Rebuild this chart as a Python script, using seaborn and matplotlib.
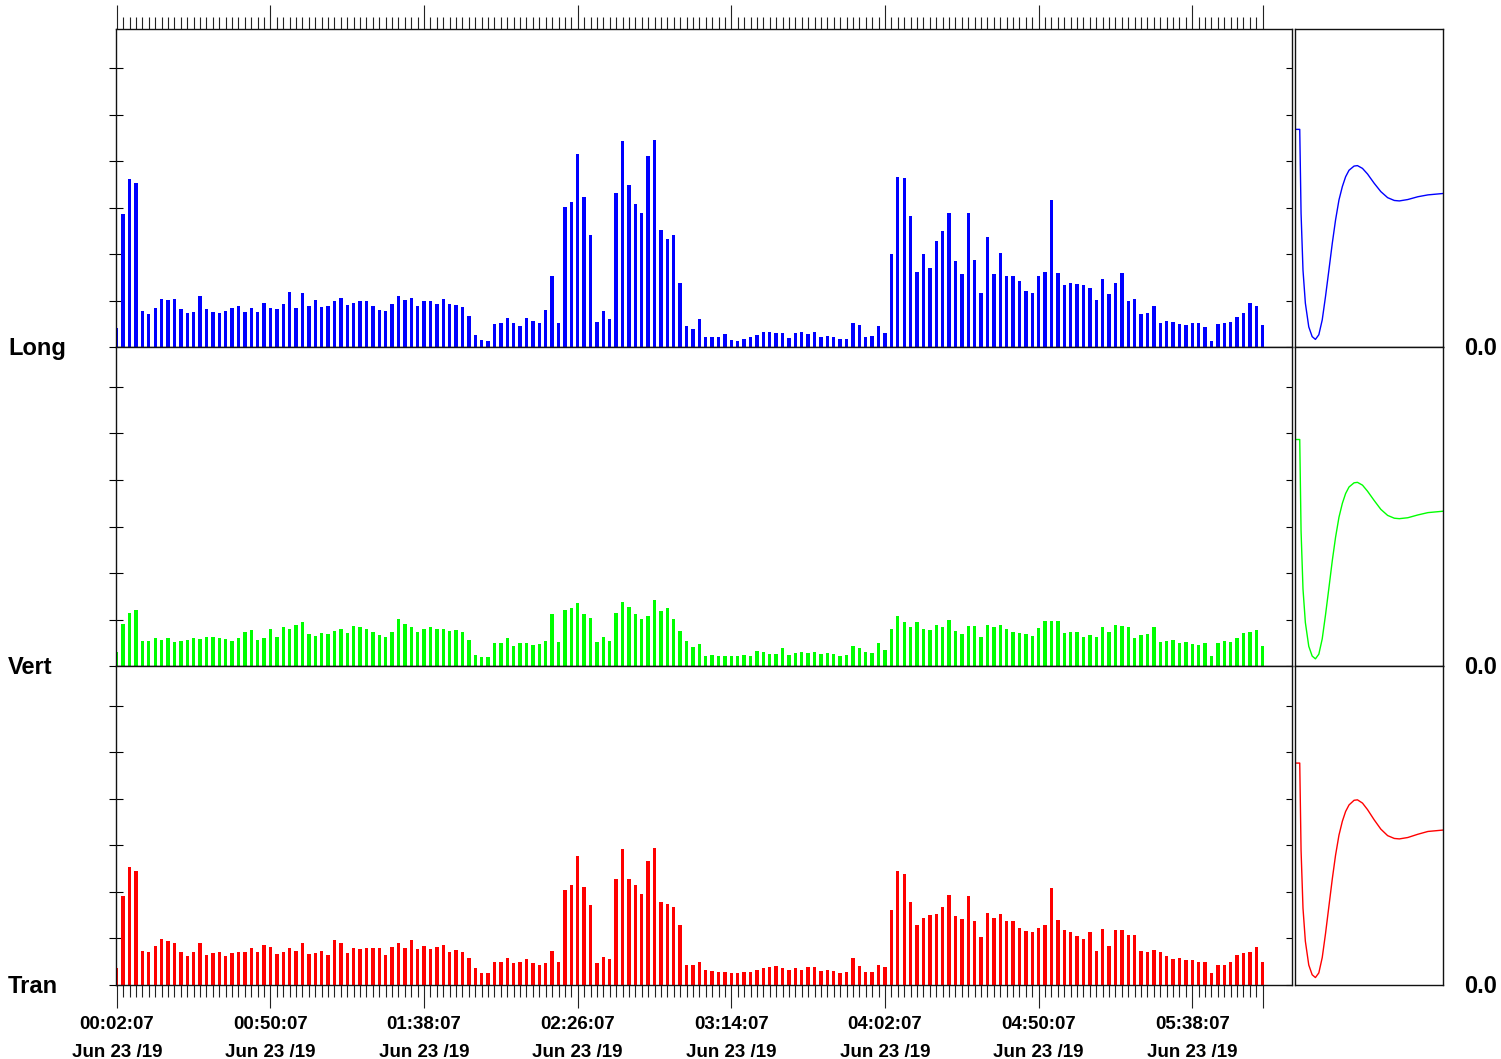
import numpy as np
import pandas as pd
import matplotlib.pyplot as plt
import seaborn as sns

sns.set_style("white")
plt.rcParams['font.family'] = ['Liberation Sans', 'DejaVu Sans']
plt.rcParams['axes.linewidth'] = 1.0
plt.rcParams['text.color'] = 'black'
plt.rcParams['xtick.color'] = 'black'
plt.rcParams['ytick.color'] = 'black'

# ---- data ----
times = pd.date_range("2019-06-23 00:02:07", periods=180, freq="2min")

long_vals = [
    0.41, 2.87, 3.63, 3.53, 0.78, 0.71, 0.85, 1.05, 1.02, 1.05,
    0.82, 0.74, 0.75, 1.10, 0.82, 0.75, 0.74, 0.78, 0.85, 0.89,
    0.77, 0.85, 0.77, 0.95, 0.85, 0.82, 0.93, 1.18, 0.85, 1.16,
    0.88, 1.02, 0.87, 0.89, 0.99, 1.06, 0.91, 0.95, 1.00, 0.99,
    0.89, 0.80, 0.78, 0.93, 1.10, 1.02, 1.06, 0.88, 1.00, 0.99,
    0.94, 1.05, 0.93, 0.91, 0.87, 0.67, 0.27, 0.16, 0.14, 0.50,
    0.52, 0.64, 0.52, 0.45, 0.62, 0.57, 0.52, 0.80, 1.53, 0.52,
    3.01, 3.12, 4.15, 3.24, 2.41, 0.54, 0.78, 0.61, 3.32, 4.45,
    3.49, 3.08, 2.90, 4.11, 4.47, 2.52, 2.33, 2.42, 1.38, 0.45,
    0.39, 0.61, 0.22, 0.22, 0.22, 0.29, 0.16, 0.14, 0.18, 0.22,
    0.27, 0.34, 0.34, 0.31, 0.30, 0.20, 0.31, 0.34, 0.29, 0.34,
    0.23, 0.24, 0.23, 0.17, 0.18, 0.52, 0.47, 0.23, 0.24, 0.45,
    0.31, 2.00, 3.66, 3.64, 2.82, 1.62, 2.00, 1.71, 2.29, 2.50,
    2.90, 1.85, 1.58, 2.90, 1.87, 1.17, 2.37, 1.58, 2.04, 1.53,
    1.54, 1.43, 1.21, 1.17, 1.53, 1.62, 3.17, 1.60, 1.35, 1.38,
    1.36, 1.35, 1.28, 1.02, 1.47, 1.15, 1.38, 1.60, 1.00, 1.04,
    0.71, 0.74, 0.88, 0.52, 0.57, 0.54, 0.50, 0.47, 0.52, 0.52,
    0.44, 0.14, 0.50, 0.52, 0.54, 0.65, 0.74, 0.95, 0.89, 0.48,
]

vert_vals = [
    0.31, 0.91, 1.14, 1.20, 0.54, 0.54, 0.60, 0.56, 0.60, 0.52,
    0.54, 0.57, 0.60, 0.59, 0.62, 0.62, 0.61, 0.58, 0.54, 0.61,
    0.74, 0.77, 0.57, 0.61, 0.80, 0.63, 0.84, 0.80, 0.89, 0.96,
    0.70, 0.65, 0.72, 0.70, 0.76, 0.80, 0.72, 0.87, 0.85, 0.80,
    0.74, 0.67, 0.63, 0.73, 1.01, 0.91, 0.85, 0.73, 0.80, 0.84,
    0.80, 0.80, 0.76, 0.78, 0.73, 0.56, 0.24, 0.20, 0.20, 0.49,
    0.50, 0.60, 0.44, 0.50, 0.50, 0.46, 0.48, 0.55, 1.13, 0.52,
    1.21, 1.25, 1.36, 1.13, 1.04, 0.52, 0.63, 0.54, 1.15, 1.38,
    1.28, 1.13, 1.02, 1.09, 1.42, 1.19, 1.26, 1.02, 0.76, 0.54,
    0.42, 0.48, 0.22, 0.24, 0.22, 0.22, 0.22, 0.22, 0.24, 0.22,
    0.33, 0.31, 0.27, 0.27, 0.39, 0.24, 0.29, 0.31, 0.29, 0.31,
    0.27, 0.29, 0.27, 0.22, 0.25, 0.44, 0.39, 0.31, 0.29, 0.50,
    0.35, 0.80, 1.09, 0.95, 0.85, 0.95, 0.80, 0.78, 0.89, 0.85,
    1.00, 0.76, 0.70, 0.87, 0.87, 0.63, 0.89, 0.85, 0.89, 0.80,
    0.74, 0.72, 0.70, 0.65, 0.82, 0.97, 0.97, 0.97, 0.72, 0.74,
    0.74, 0.63, 0.67, 0.63, 0.85, 0.74, 0.89, 0.87, 0.84, 0.61,
    0.67, 0.70, 0.85, 0.52, 0.54, 0.57, 0.49, 0.52, 0.48, 0.46,
    0.49, 0.22, 0.50, 0.54, 0.52, 0.61, 0.72, 0.74, 0.78, 0.43,
]

tran_vals = [
    0.37, 1.92, 2.53, 2.44, 0.74, 0.72, 0.83, 0.99, 0.94, 0.91,
    0.70, 0.62, 0.70, 0.91, 0.64, 0.68, 0.72, 0.62, 0.68, 0.72,
    0.72, 0.79, 0.72, 0.85, 0.81, 0.66, 0.72, 0.80, 0.74, 0.90,
    0.67, 0.68, 0.74, 0.64, 0.96, 0.91, 0.68, 0.80, 0.77, 0.79,
    0.79, 0.79, 0.64, 0.82, 0.91, 0.80, 0.96, 0.77, 0.83, 0.77,
    0.81, 0.85, 0.72, 0.75, 0.72, 0.59, 0.37, 0.25, 0.26, 0.49,
    0.49, 0.58, 0.47, 0.50, 0.55, 0.47, 0.44, 0.47, 0.74, 0.49,
    2.04, 2.15, 2.77, 2.11, 1.73, 0.47, 0.61, 0.55, 2.28, 2.92,
    2.28, 2.14, 1.95, 2.67, 2.94, 1.78, 1.74, 1.67, 1.28, 0.42,
    0.42, 0.49, 0.32, 0.31, 0.27, 0.29, 0.25, 0.25, 0.27, 0.27,
    0.32, 0.36, 0.39, 0.40, 0.37, 0.32, 0.36, 0.32, 0.39, 0.39,
    0.30, 0.32, 0.31, 0.25, 0.29, 0.59, 0.40, 0.27, 0.27, 0.42,
    0.38, 1.61, 2.44, 2.39, 1.79, 1.28, 1.43, 1.50, 1.52, 1.68,
    1.93, 1.49, 1.42, 1.92, 1.37, 1.03, 1.54, 1.44, 1.52, 1.38,
    1.37, 1.22, 1.16, 1.13, 1.22, 1.28, 2.09, 1.40, 1.18, 1.13,
    1.05, 0.99, 1.13, 0.74, 1.20, 0.83, 1.18, 1.18, 1.07, 1.07,
    0.74, 0.70, 0.75, 0.70, 0.62, 0.56, 0.59, 0.53, 0.53, 0.49,
    0.49, 0.26, 0.44, 0.44, 0.49, 0.64, 0.68, 0.70, 0.81, 0.49,
]

# waveform in the side panels (x as fraction of the panel width)
curve_x = [0.0, 0.032, 0.041, 0.054, 0.070, 0.093, 0.116, 0.138, 0.161, 0.184,
           0.206, 0.229, 0.252, 0.274, 0.297, 0.320, 0.342, 0.365, 0.399, 0.422,
           0.456, 0.490, 0.535, 0.580, 0.626, 0.671, 0.705, 0.762, 0.830, 0.898, 1.0]
long_curve = [4.69, 4.69, 2.88, 1.66, 0.95, 0.44, 0.23, 0.17, 0.27, 0.59,
              1.09, 1.66, 2.24, 2.74, 3.17, 3.46, 3.67, 3.81, 3.90, 3.91,
              3.85, 3.73, 3.53, 3.35, 3.22, 3.16, 3.15, 3.18, 3.24, 3.28, 3.31]
vert_curve = [4.87, 4.87, 2.90, 1.66, 0.94, 0.43, 0.22, 0.16, 0.26, 0.59,
              1.10, 1.68, 2.27, 2.77, 3.20, 3.50, 3.71, 3.85, 3.94, 3.95,
              3.89, 3.76, 3.56, 3.37, 3.24, 3.18, 3.17, 3.19, 3.25, 3.30, 3.33]
tran_curve = [4.77, 4.77, 2.89, 1.65, 0.94, 0.43, 0.22, 0.16, 0.26, 0.59,
              1.10, 1.69, 2.28, 2.79, 3.22, 3.52, 3.73, 3.87, 3.97, 3.98,
              3.91, 3.77, 3.55, 3.35, 3.21, 3.15, 3.14, 3.17, 3.24, 3.30, 3.33]

row_names = ["Long", "Vert", "Tran"]
row_colors = ["#0000ff", "#00ff00", "#ff0000"]
zero_label = "0.0"

major_idx = [0, 24, 48, 72, 96, 120, 144, 168, 179]
tick_labels = [times[i].strftime("%H:%M:%S") + "\n" + times[i].strftime("%b %d /%y")
               for i in major_idx[:-1]] + [""]

# ---- layout ----
W, H = 1501, 1059
fig = plt.figure(figsize=(W / 100, H / 100), dpi=100)

tops = [29.0, 347.3, 666.3]
bases = [347.3, 666.3, 985.0]
main_l, main_r = 115.7, 1291.5
side_l, side_r = 1295.0, 1443.0
ymax = 6.85

series = [long_vals, vert_vals, tran_vals]
curves = [long_curve, vert_curve, tran_curve]
pos = np.arange(len(times))

for r in range(3):
    b = 1 - bases[r] / H
    h = (bases[r] - tops[r]) / H
    ax = fig.add_axes([main_l / W, b, (main_r - main_l) / W, h])
    sns.barplot(x=pos, y=series[r], color=row_colors[r], width=0.53,
                native_scale=True, errorbar=None, linewidth=0, saturation=1, ax=ax)
    ax.set_xlim(-0.17, 183.5)
    ax.set_ylim(0, ymax)
    ax.set_xlabel("")
    ax.set_ylabel("")
    for s in ax.spines.values():
        s.set_color("#111111")
        s.set_linewidth(1.0)

    ax.set_yticks(range(7))
    ax.tick_params(axis="y", which="major", left=True, right=False, direction="inout",
                   length=10, width=0.8, color="black", labelleft=False)
    sec = ax.secondary_yaxis("right")
    sec.set_yticks(range(7))
    sec.tick_params(direction="in", length=4.3, width=0.8, color="black", labelright=False)
    sec.spines["right"].set_visible(False)

    ax.set_xticks(range(len(times)), minor=True)
    if r == 0:
        ax.set_xticks(major_idx)
        ax.tick_params(axis="x", which="both", bottom=False, top=True, labelbottom=False,
                       direction="out", color="#222222", width=0.8)
        ax.tick_params(axis="x", which="major", length=17.3)
        ax.tick_params(axis="x", which="minor", length=8.6)
    elif r == 2:
        ax.set_xticks(major_idx, labels=tick_labels, fontsize=13.5,
                      fontweight="bold", linespacing=1.85, color="black")
        ax.tick_params(axis="x", which="both", bottom=True, top=False, direction="out",
                       color="#222222", width=0.8, pad=5.5)
        ax.tick_params(axis="x", which="major", length=16.6)
        ax.tick_params(axis="x", which="minor", length=8.6)
    else:
        ax.set_xticks([])
        ax.set_xticks([], minor=True)

    # side panel with the waveform
    axr = fig.add_axes([side_l / W, b, (side_r - side_l) / W, h])
    sns.lineplot(x=curve_x, y=curves[r], color=row_colors[r], linewidth=1.0,
                 estimator=None, sort=False, ax=axr)
    axr.set_xlim(0, 1)
    axr.set_ylim(0, ymax)
    axr.set_xticks([])
    axr.set_yticks([])
    for s in axr.spines.values():
        s.set_color("#111111")
        s.set_linewidth(1.0)

    fig.text(8 / W, 1 - (bases[r] + 8) / H, row_names[r], fontsize=17,
             fontweight="bold", ha="left", va="baseline", color="black")
    fig.text(1497 / W, 1 - (bases[r] + 8) / H, zero_label, fontsize=17,
             fontweight="bold", ha="right", va="baseline", color="black")

fig.savefig("out.png", dpi=100)
